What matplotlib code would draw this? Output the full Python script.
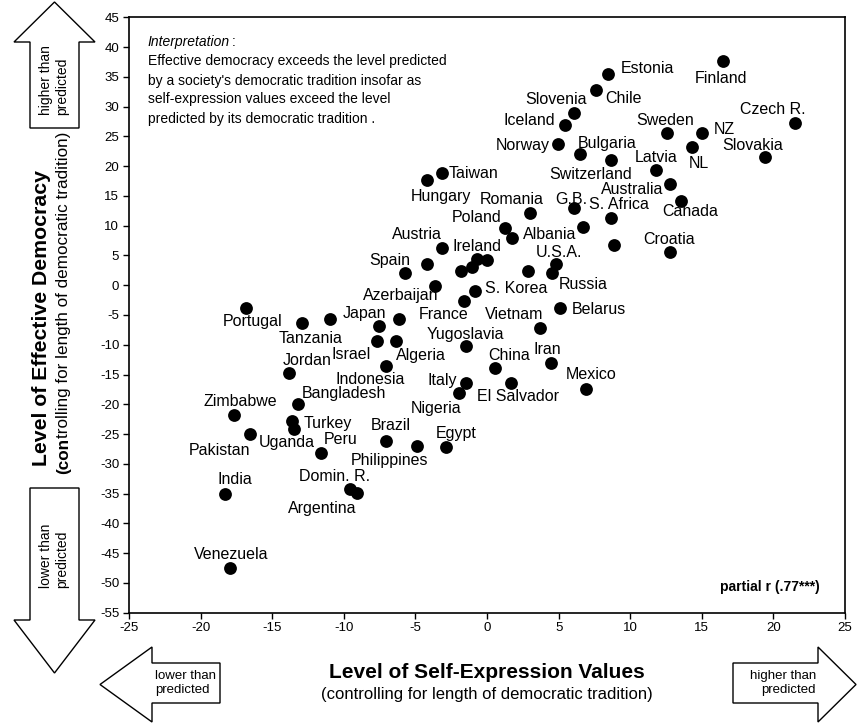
import matplotlib.pyplot as plt
from matplotlib.patches import Polygon

plt.rcParams['font.family'] = ['Liberation Sans', 'DejaVu Sans']
plt.rcParams['axes.unicode_minus'] = False

# countries (empty name = dot without a label in the original)
countries = ['Estonia', 'Finland', 'Chile', 'Slovenia', 'Iceland', 'Norway', 'Czech R.',
             'Sweden', 'NZ', 'NL', 'Slovakia', 'Switzerland', 'Bulgaria', 'Latvia',
             'Australia', 'Canada', 'Taiwan', 'Hungary', 'Romania', 'G.B.', 'S. Africa',
             'Poland', 'Albania', 'Ireland', 'U.S.A.', 'Croatia', 'Russia', 'S. Korea',
             'Belarus', 'Vietnam', 'Yugoslavia', 'China', 'Iran', 'Mexico', 'El Salvador',
             'Italy', 'Nigeria', 'Indonesia', 'Algeria', 'Israel', 'Jordan', 'Japan',
             'France', 'Azerbaijan', 'Tanzania', 'Portugal', 'Spain', 'Austria',
             'Zimbabwe', 'Bangladesh', 'Turkey', 'Uganda', 'Pakistan', 'Peru', 'Brazil',
             'Philippines', 'Egypt', 'India', 'Domin. R.', 'Argentina', 'Venezuela',
             '', '', '', '', '', '', '', '', '']
self_expr = [8.45, 16.5, 7.64, 6.08, 5.47, 4.99, 21.5,
             12.57, 15.04, 14.34, 19.4, 6.47, 8.64, 11.83,
             12.76, 13.55, -3.14, -4.19, 3.03, 6.08, 8.64,
             1.24, 1.77, 0.03, 4.8, 12.8, 4.54, -0.81,
             5.08, 3.73, -1.49, 0.54, 4.45, 6.94, 1.7,
             -1.44, -1.98, -7.03, -6.33, -7.65, -13.83, -7.54,
             -1.61, -3.65, -12.94, -16.85, -5.73, -3.12,
             -17.69, -13.2, -13.64, -13.45, -16.57, -11.61, -7.03,
             -4.89, -2.84, -18.27, -9.54, -9.08, -17.92,
             -4.19, -1.79, -1.05, -0.7, 2.86, 6.7, 8.9, -10.98, -6.15]
democracy = [35.5, 37.7, 32.8, 29.0, 26.9, 23.7, 27.3,
             25.5, 25.6, 23.3, 21.5, 22.0, 21.0, 19.35,
             16.95, 14.15, 18.8, 17.67, 12.1, 12.9, 11.3,
             9.56, 8.0, 4.24, 3.57, 5.63, 2.0, -0.92,
             -3.77, -7.24, -10.2, -13.85, -13.1, -17.48, -16.37,
             -16.37, -18.05, -13.57, -9.37, -9.37, -14.69, -6.8,
             -2.65, -0.08, -6.4, -3.77, 2.0, 6.3,
             -21.8, -19.95, -22.8, -24.15, -25.0, -28.13, -26.1,
             -26.95, -27.12, -35.06, -34.22, -34.95, -47.44,
             3.5, 2.44, 3.1, 4.35, 2.44, 9.73, 6.76, -5.67, -5.67]

# label offsets from the dot, in pixels (x right, y up)
label_offsets = {
    'Estonia': (39, 7), 'Finland': (-2, -16), 'Chile': (27, -7), 'Slovenia': (-18, 15),
    'Iceland': (-36, 6), 'Norway': (-36, 0), 'Czech R.': (-22, 15), 'Sweden': (-2, 14),
    'NZ': (22, 5), 'NL': (7, -15), 'Slovakia': (-12, 13), 'Switzerland': (11, -19),
    'Bulgaria': (-4, 18), 'Latvia': (0, 14), 'Australia': (-38, -4), 'Canada': (9, -9),
    'Taiwan': (31, 1), 'Hungary': (14, -15), 'Romania': (-19, 15), 'G.B.': (-3, 10),
    'S. Africa': (8, 15), 'Poland': (-28, 12), 'Albania': (37, 5), 'Ireland': (-10, 15),
    'U.S.A.': (3, 13), 'Croatia': (-1, 14), 'Russia': (31, -10), 'S. Korea': (41, 4),
    'Belarus': (39, 0), 'Vietnam': (-26, 15), 'Yugoslavia': (0, 13), 'China': (14, 14),
    'Iran': (-3, 15), 'Mexico': (5, 16), 'El Salvador': (7, -12), 'Italy': (-24, 4),
    'Nigeria': (-23, -14), 'Indonesia': (-16, -12), 'Algeria': (25, -13),
    'Israel': (-26, -12), 'Jordan': (18, 14), 'Japan': (-15, 14), 'France': (-20, -12),
    'Azerbaijan': (-34, -8), 'Tanzania': (9, -14), 'Portugal': (7, -12),
    'Spain': (-15, 14), 'Austria': (-25, 15), 'Zimbabwe': (7, 15), 'Bangladesh': (46, 12),
    'Turkey': (36, -1), 'Uganda': (-8, -12), 'Pakistan': (-30, -15), 'Peru': (20, 15),
    'Brazil': (4, 17), 'Philippines': (-27, -13), 'Egypt': (10, 15), 'India': (10, 16),
    'Domin. R.': (-16, 14), 'Argentina': (-35, -14), 'Venezuela': (1, 15),
}

W, H = 861, 727
fig = plt.figure(figsize=(W / 100, H / 100), dpi=100)
ax = fig.add_axes([129 / W, 1 - 612.7 / H, (845 - 129) / W, (612.7 - 17.3) / H])

ax.scatter(self_expr, democracy, s=85, color='black', linewidths=0, zorder=3)
for name, x, y in zip(countries, self_expr, democracy):
    if name:
        dx, dy = label_offsets[name]
        ax.annotate(name, (x, y), xytext=(dx, dy), textcoords='offset pixels',
                    ha='center', va='center_baseline', fontsize=11.5)

ax.set_xlim(-25, 25)
ax.set_ylim(-55, 45)
ax.set_xticks(range(-25, 26, 5))
ax.set_yticks(range(-55, 46, 5))
ax.tick_params(direction='out', length=4, width=1, labelsize=9.5, pad=3)
for s in ax.spines.values():
    s.set_linewidth(1.2)

# interpretation text
t = fig.text(147.7 / W, 1 - 40.7 / H, 'Interpretation', style='italic', fontsize=10,
             va='center_baseline')
ax.annotate(':', xy=(1, 0), xycoords=t, xytext=(2, 0), textcoords='offset pixels',
            va='bottom', fontsize=10)
interp_lines = ["Effective democracy exceeds the level predicted",
                "by a society's democratic tradition insofar as",
                "self-expression values exceed the level",
                "predicted by its democratic tradition ."]
for i, line in enumerate(interp_lines):
    fig.text(147.7 / W, 1 - (60 + 19 * i) / H, line, fontsize=10, va='center_baseline')

fig.text(820 / W, 1 - 585 / H, 'partial r (.77***)', fontsize=10, fontweight='bold',
         ha='right', va='center_baseline')

# axis titles
fig.text(487 / W, 1 - 672 / H, 'Level of Self-Expression Values', fontsize=15,
         fontweight='bold', ha='center', va='center')
fig.text(487 / W, 1 - 695 / H, '(controlling for length of democratic tradition)',
         fontsize=12, ha='center', va='center')
fig.text(42 / W, 1 - 318 / H, 'Level of Effective Democracy', fontsize=15.3,
         fontweight='bold', ha='center', va='center', rotation=90)
c1 = fig.text(64 / W, 1 - 474 / H, '(con', fontsize=12.3, fontweight='bold',
              ha='center', va='bottom', rotation=90)
ax.annotate('trolling for length of democratic tradition)', xy=(0.5, 1), xycoords=c1,
            ha='center', va='bottom', rotation=90, fontsize=12.3)


def arrow(points, text, tx, ty, rot=0, ha='center', ma='left', size=10):
    pts = [(px / W, 1 - py / H) for px, py in points]
    fig.patches.append(Polygon(pts, closed=True, facecolor='white', edgecolor='black',
                               linewidth=1, transform=fig.transFigure))
    fig.text(tx / W, 1 - ty / H, text, rotation=rot, ha=ha, va='center',
             multialignment=ma, fontsize=size, linespacing=1.2)


arrow([(30, 128), (30, 42), (14, 42), (54.5, 2), (95, 42), (79, 42), (79, 128)],
      'higher than\npredicted', 54.5, 80, rot=90)
arrow([(30, 488), (30, 620), (14, 620), (54.5, 673), (95, 620), (79, 620), (79, 488)],
      'lower than\npredicted', 54.5, 556, rot=90)
arrow([(220, 663), (152, 663), (152, 647), (100, 684.5), (152, 722), (152, 703), (220, 703)],
      'lower than\npredicted', 155, 683, ha='left', size=9.5)
arrow([(733, 663), (818, 663), (818, 647), (856, 684.5), (818, 722), (818, 703), (733, 703)],
      'higher than\npredicted', 816, 683, ha='right', ma='right', size=9.5)

fig.savefig('out.png', dpi=100)
